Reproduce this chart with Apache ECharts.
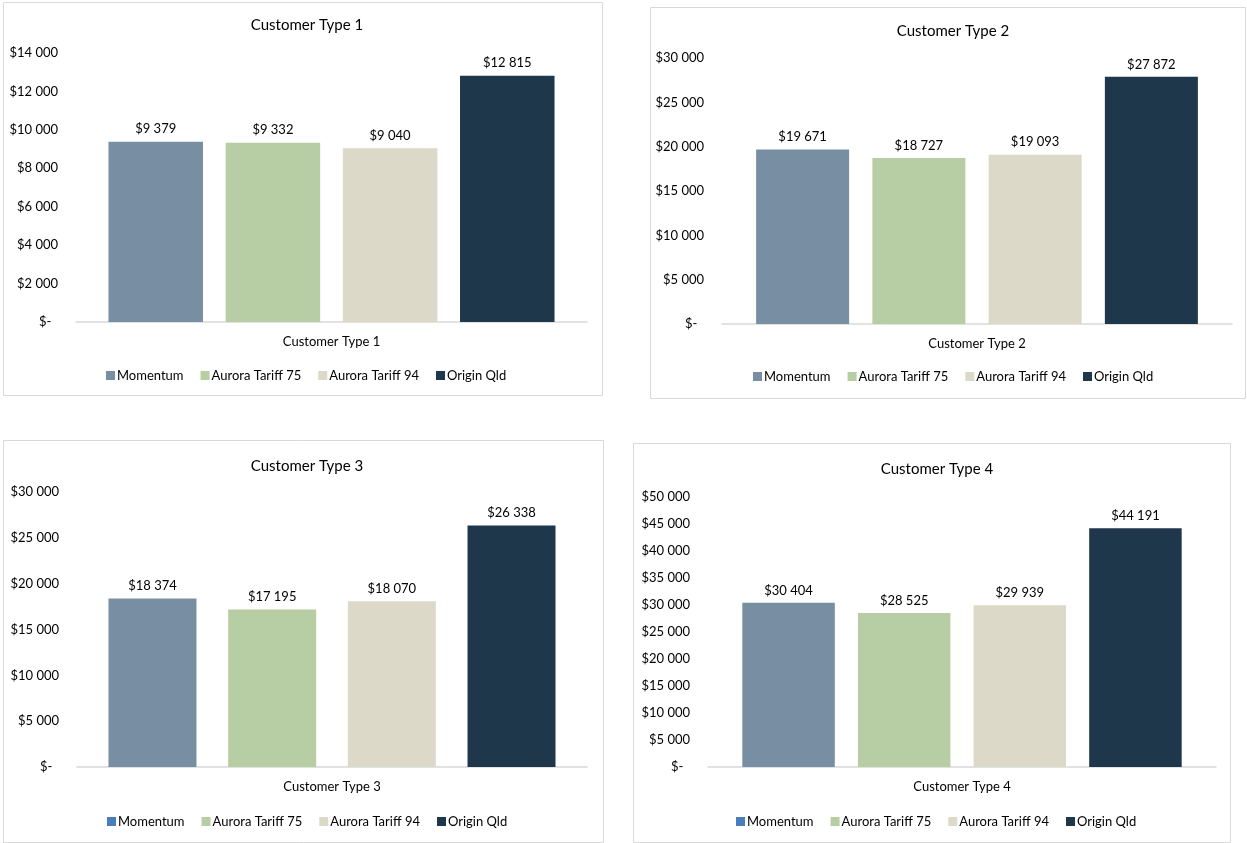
<!DOCTYPE html>
<html>
<head>
<meta charset="utf-8">
<script src="https://cdn.jsdelivr.net/npm/echarts@6/dist/echarts.min.js"></script>
<style>
  html, body { margin: 0; padding: 0; background: #ffffff; }
  #chart { width: 1247px; height: 843px; }
</style>
</head>
<body>
<div id="chart"></div>
<script>
// Annual bill per customer type, by tariff
const categories = ['Customer Type 1', 'Customer Type 2', 'Customer Type 3', 'Customer Type 4'];
const tariffs = ['Momentum', 'Aurora Tariff 75', 'Aurora Tariff 94', 'Origin Qld'];
const momentum = [9379, 19671, 18374, 30404];
const aurora75 = [9332, 18727, 17195, 28525];
const aurora94 = [9040, 19093, 18070, 29939];
const originQld = [12815, 27872, 26338, 44191];
const axisMax = [14000, 30000, 30000, 50000];
const axisStep = [2000, 5000, 5000, 5000];

const seriesValues = [momentum, aurora75, aurora94, originQld];
const barColors = ['#788ea3', '#b7cda4', '#dcd9c8', '#1f374b'];

// Panel layout: frame, plot area, bar sizes, title/legend placement
const panels = [
  { frame: [3, 2, 599, 393],   grid: [76, 53, 511, 269],   barW: 94.5, gap: '24%', titleX: 302, titleY: 13, legendX: 106, legendY: 369, momIcon: barColors[0] },
  { frame: [650, 7, 595, 391], grid: [722, 58, 510, 266],  barW: 93,   gap: '25%', titleX: 948, titleY: 19, legendX: 753, legendY: 370, momIcon: barColors[0] },
  { frame: [3, 440, 600, 402], grid: [77, 492, 510, 275],  barW: 88,   gap: '36%', titleX: 302, titleY: 454, legendX: 107, legendY: 815, momIcon: '#4a7ebb' },
  { frame: [633, 443, 597, 399], grid: [708, 497, 508, 270], barW: 92.5, gap: '25%', titleX: 932, titleY: 457, legendX: 736, legendY: 815, momIcon: '#4a7ebb' }
];

const FONT = 'Lato';

function money(v) {
  if (v === 0) return '$-  ';
  return '$' + String(Math.round(v)).replace(/\B(?=(\d{3})+(?!\d))/g, ' ');
}

const chart = echarts.init(document.getElementById('chart'), null, { renderer: 'canvas' });

const option = {
  backgroundColor: '#ffffff',
  animation: false,
  textStyle: { fontFamily: FONT, color: '#000000' },
  title: panels.map((p, i) => ({
    text: categories[i],
    left: p.titleX,
    top: p.titleY,
    textAlign: 'center',
    textStyle: { fontFamily: FONT, fontSize: 15, fontWeight: 'normal', color: '#000000' }
  })),
  legend: panels.map((p, i) => ({
    left: p.legendX,
    top: p.legendY,
    width: 480,
    padding: 0,
    orient: 'horizontal',
    itemWidth: 9,
    itemHeight: 9,
    itemGap: 17,
    selectedMode: false,
    icon: 'rect',
    textStyle: { fontFamily: FONT, fontSize: 13, color: '#000000', padding: [0, 0, 0, -3] },
    data: tariffs.map((t, k) => ({ name: t, itemStyle: { color: k === 0 ? p.momIcon : barColors[k] } }))
  })),
  grid: panels.map(p => ({ left: p.grid[0], top: p.grid[1], width: p.grid[2], height: p.grid[3], containLabel: false })),
  xAxis: panels.map((p, i) => ({
    type: 'category',
    gridIndex: i,
    data: [categories[i]],
    axisLine: { show: true, lineStyle: { color: '#d9d9d9', width: 1.5 } },
    axisTick: { show: false },
    axisLabel: { margin: 13, fontFamily: FONT, fontSize: 13, color: '#000000' },
    splitLine: { show: false }
  })),
  yAxis: panels.map((p, i) => ({
    type: 'value',
    gridIndex: i,
    min: 0,
    max: axisMax[i],
    interval: axisStep[i],
    axisLine: { show: false },
    axisTick: { show: false },
    splitLine: { show: false },
    axisLabel: { margin: 18, fontFamily: FONT, fontSize: 13, color: '#000000', formatter: money }
  })),
  series: [],
  graphic: panels.map(p => ({
    type: 'rect',
    shape: { x: p.frame[0] + 0.5, y: p.frame[1] + 0.5, width: p.frame[2], height: p.frame[3] },
    style: { fill: 'none', stroke: '#d9d9d9', lineWidth: 1 },
    silent: true,
    z: -1
  }))
};

panels.forEach((p, i) => {
  tariffs.forEach((t, k) => {
    option.series.push({
      type: 'bar',
      name: t,
      xAxisIndex: i,
      yAxisIndex: i,
      barWidth: p.barW,
      barGap: p.gap,
      itemStyle: { color: barColors[k] },
      label: {
        show: true,
        position: 'top',
        distance: 6,
        fontFamily: FONT,
        fontSize: 13,
        color: '#000000',
        formatter: (d) => money(d.value)
      },
      data: [seriesValues[k][i]]
    });
  });
});

chart.setOption(option);
</script>
</body>
</html>
